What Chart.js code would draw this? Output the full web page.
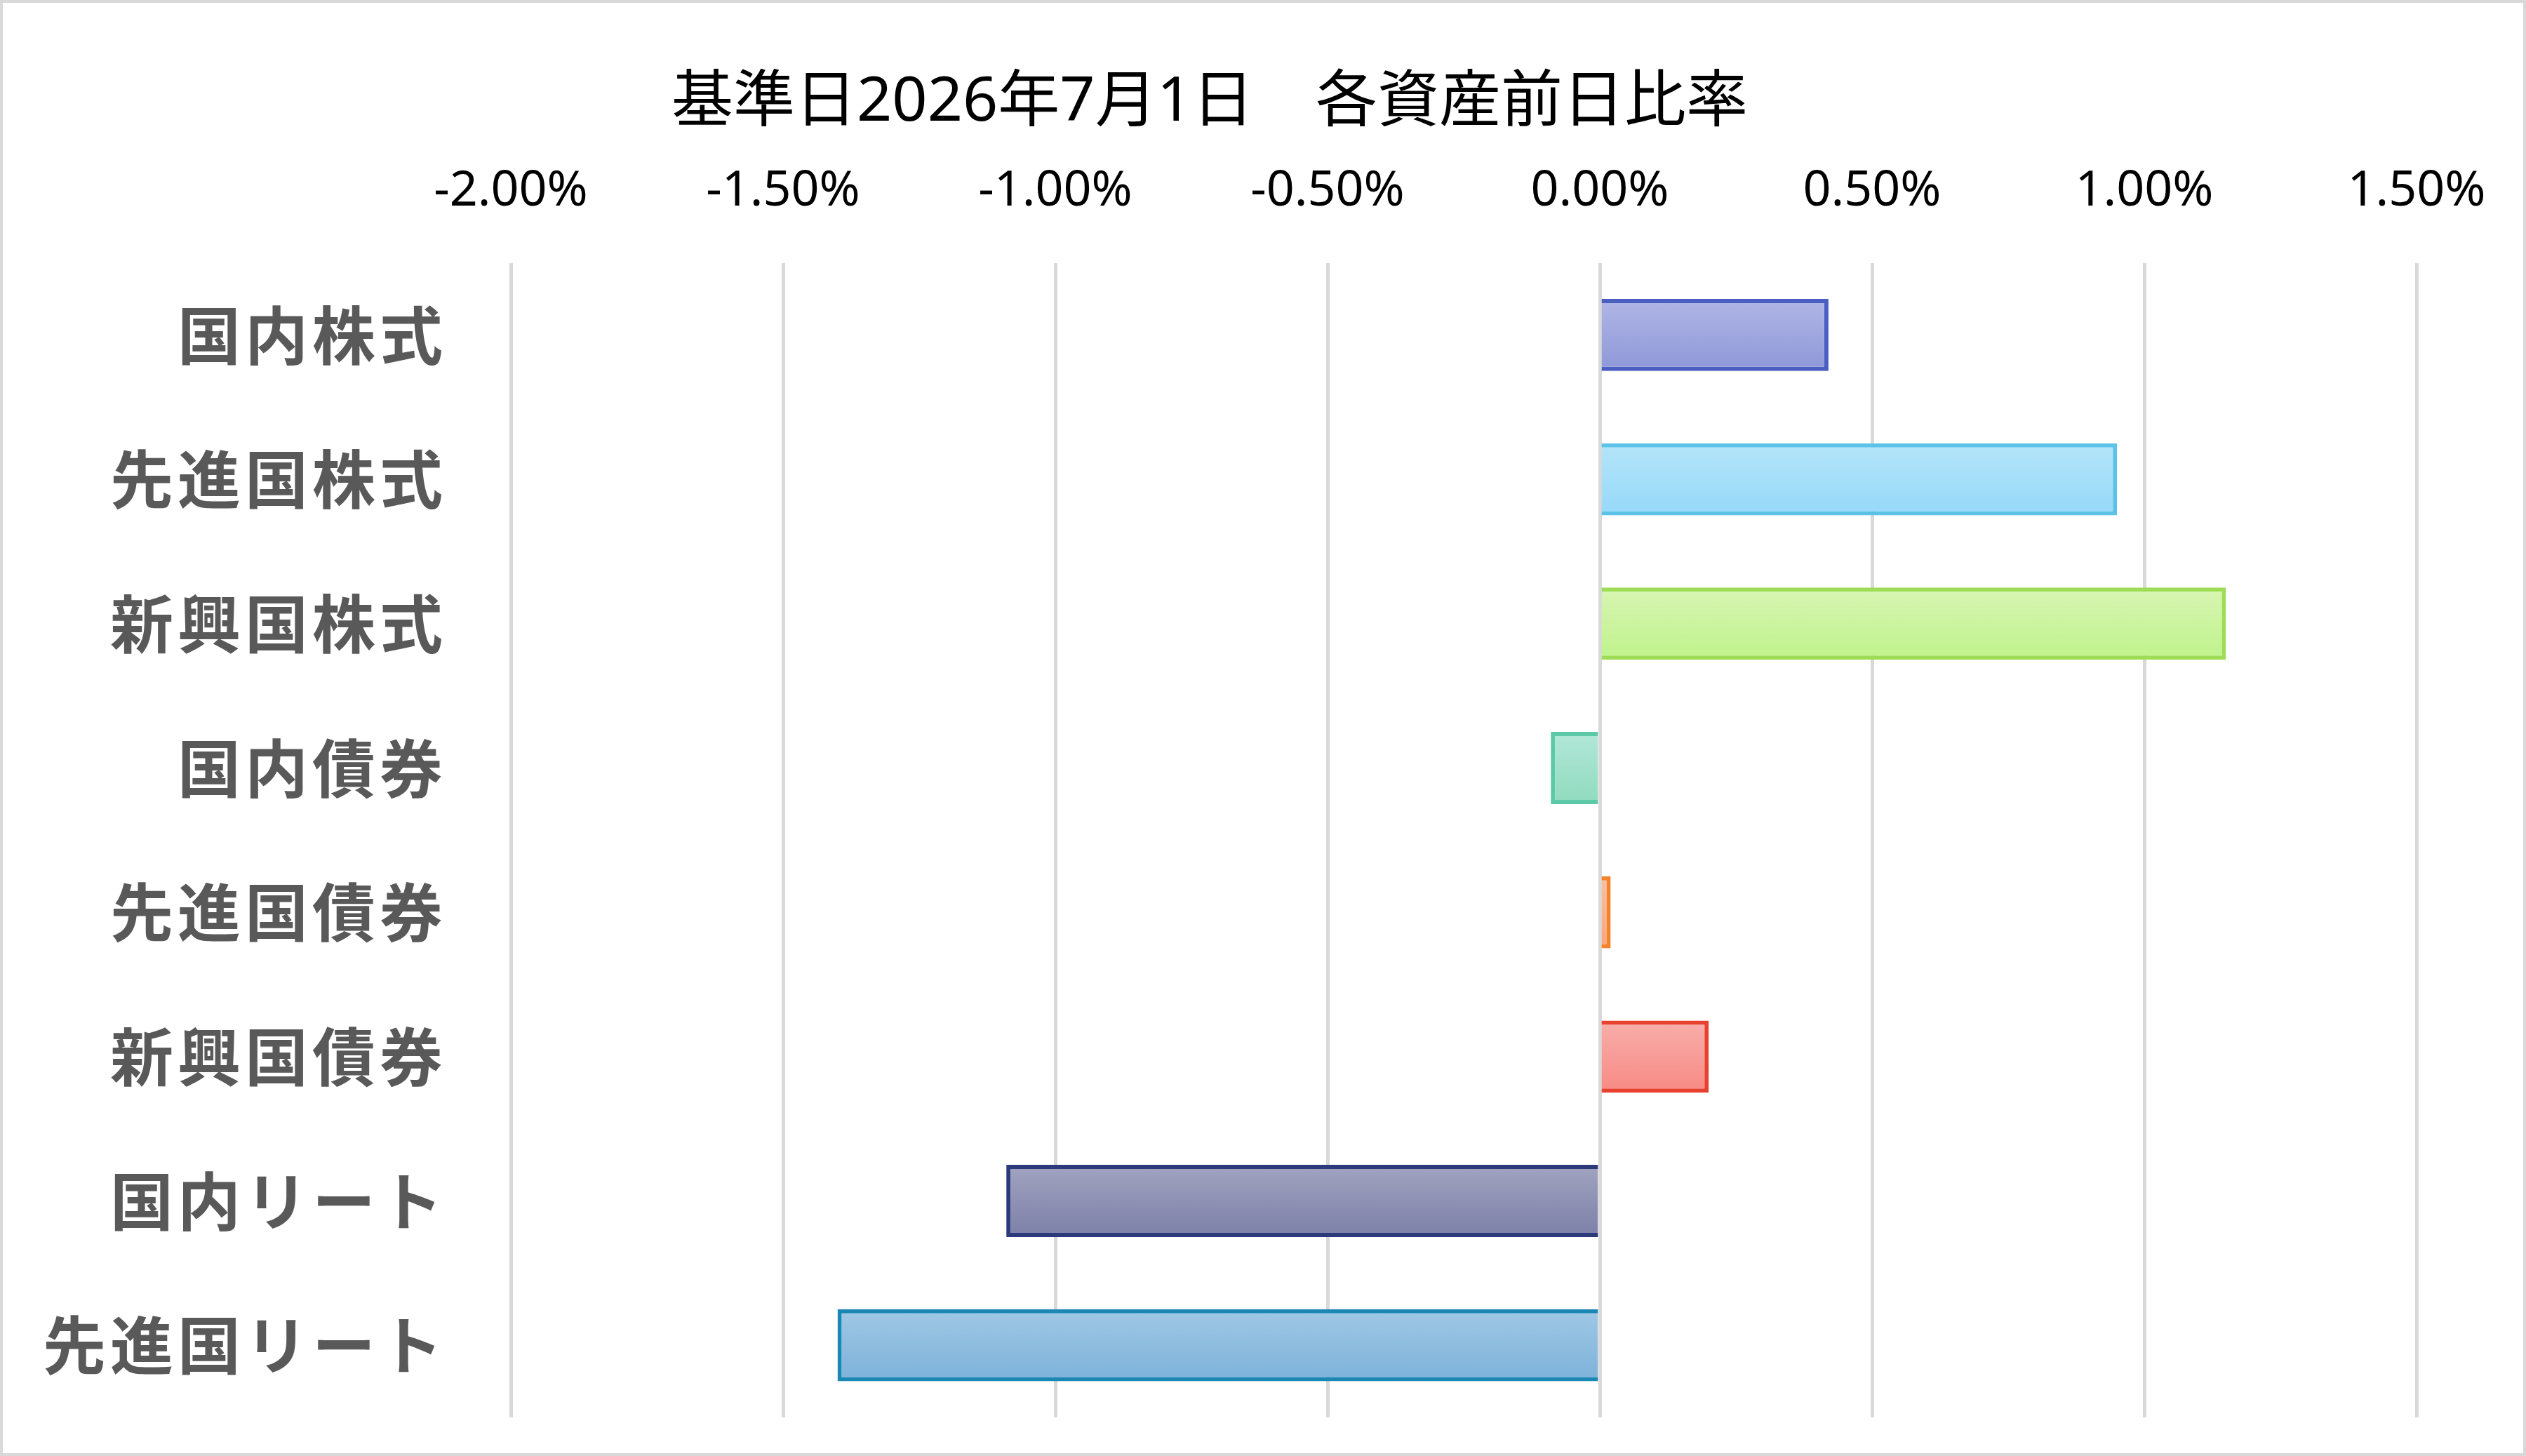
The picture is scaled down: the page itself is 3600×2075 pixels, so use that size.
<!DOCTYPE html>
<html lang="ja">
<head>
<meta charset="utf-8">
<title>各資産前日比率</title>
<script src="https://cdn.jsdelivr.net/npm/chart.js@4.4.1/dist/chart.umd.min.js"></script>
<style>
html, body { margin: 0; padding: 0; background: #fff; }
#wrap { position: relative; width: 3600px; height: 2075px; box-sizing: border-box; border: 4px solid #d9d9d9; background: #fff; }
</style>
</head>
<body>
<div id="wrap"><canvas id="assetChart"></canvas></div>
<script>
// data (percent)
var chartTitle = '基準日2026年7月1日\u3000各資産前日比率';
var assetLabels = ['国内株式', '先進国株式', '新興国株式', '国内債券', '先進国債券', '新興国債券', '国内リート', '先進国リート'];
var dailyChange = [0.42, 0.95, 1.15, -0.09, 0.02, 0.20, -1.09, -1.40];
var xMin = -2, xMax = 1.5, xStep = 0.5;

// bar colours: gradient top / bottom and outline
var fillTop = ['#b0b6e5', '#b4e5f9', '#d8f5b3', '#b3e7d8', '#fcc0a0', '#f8aeaa', '#a2a3c0', '#a0c8e5'];
var fillBottom = ['#8e98d8', '#96d9f9', '#bff38b', '#8fdbbf', '#fba47c', '#f88a84', '#7c80a8', '#7db2d9'];
var borderColors = ['#4a5fc1', '#5bc3e8', '#9ddd55', '#5cc9a7', '#f5822a', '#e8422f', '#2b3a7a', '#1a87b5'];

function barGradient(c) {
    var chart = c.chart, area = chart.chartArea, i = c.dataIndex;
    if (!area || !chart.scales.y) return fillBottom[i];
    var thick = (area.bottom - area.top) / assetLabels.length * 0.5;
    var yc = chart.scales.y.getPixelForValue(i);
    var g = chart.ctx.createLinearGradient(0, yc - thick / 2, 0, yc + thick / 2);
    g.addColorStop(0, fillTop[i]);
    g.addColorStop(1, fillBottom[i]);
    return g;
}

var chart = new Chart(document.getElementById('assetChart').getContext('2d'), {
    type: 'bar',
    data: {
        labels: assetLabels,
        datasets: [{
            data: dailyChange,
            backgroundColor: barGradient,
            borderColor: borderColors,
            borderWidth: 6,
            barPercentage: 0.5,
            categoryPercentage: 1
        }]
    },
    options: {
        indexAxis: 'y',
        responsive: true, maintainAspectRatio: false,
        animation: false,
        layout: { padding: { left: 0, right: 152, top: 0, bottom: 51 } },
        plugins: {
            legend: { display: false },
            tooltip: { enabled: false },
            title: {
                display: true, text: chartTitle, color: '#000',
                font: { family: '"Noto Sans", "Noto Sans CJK JP"', size: 88, weight: 'normal' },
                padding: { top: 90, bottom: 0 }
            }
        },
        scales: {
            x: {
                position: 'top', min: xMin, max: xMax,
                grid: { color: '#d9d9d9', lineWidth: 5, drawTicks: false },
                border: { display: false },
                ticks: {
                    stepSize: xStep, padding: 60, color: '#000',
                    font: { family: '"Noto Sans"', size: 70 },
                    callback: function (v) { return v.toFixed(2) + '%'; }
                },
                afterFit: function (s) { s.height = 175; s.paddingLeft = 0; s.paddingRight = 0; }
            },
            y: {
                grid: { display: false },
                border: { display: false },
                ticks: {
                    padding: 83, color: '#595959',
                    font: { family: '"Noto Sans CJK JP"', size: 90, weight: 'bold' }
                },
                afterFit: function (s) { s.width = 724; s.paddingTop = 0; s.paddingBottom = 0; }
            }
        }
    }
});

// category labels are spaced out in the reference
var yScale = chart.scales.y;
var drawYLabels = yScale.drawLabels.bind(yScale);
yScale.drawLabels = function (area) {
    var ctx = this.ctx;
    ctx.save();
    ctx.letterSpacing = '6px';
    drawYLabels(area);
    ctx.restore();
};
chart.draw();
</script>
</body>
</html>
